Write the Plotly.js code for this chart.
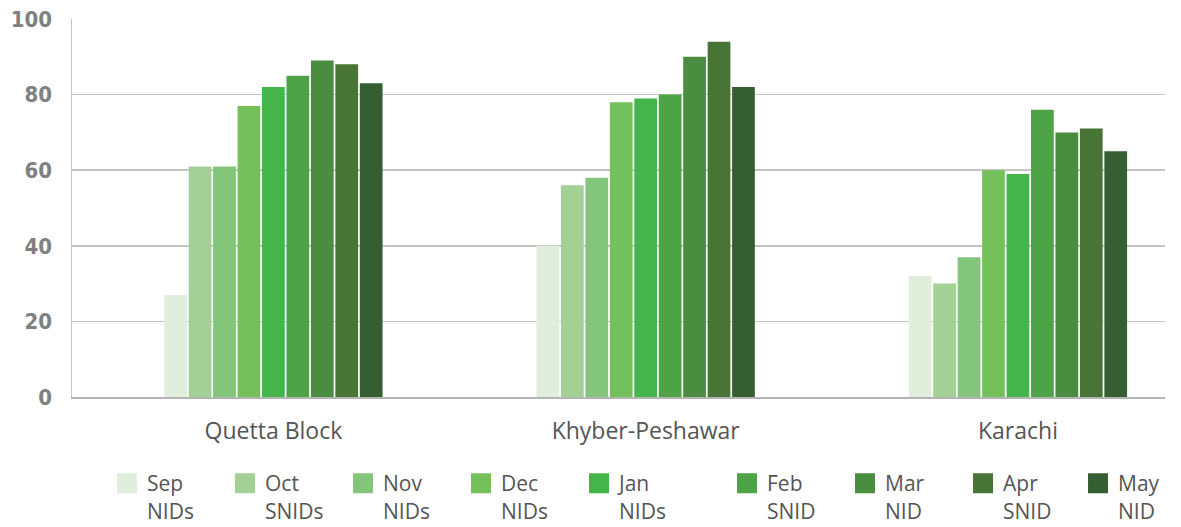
<!DOCTYPE html>
<html>
<head>
<meta charset="utf-8">
<script src="https://cdn.plot.ly/plotly-3.0.1.min.js"></script>
<style>
  body { margin: 0; background: #fff; }
  #chart { width: 1181px; height: 527px; }
</style>
</head>
<body>
<div id="chart"></div>
<script>
// regions on the x axis
let regions = ["Quetta Block", "Khyber-Peshawar", "Karachi"];

// one entry per campaign (legend label, colour, values per region)
let campaigns = ["Sep<br>NIDs", "Oct<br>SNIDs", "Nov<br>NIDs", "Dec<br>NIDs", "Jan<br>NIDs",
                 "Feb<br>SNID", "Mar<br>NID", "Apr<br>SNID", "May<br>NID"];
let colours = ["#e0efdc", "#a2d095", "#82c57b", "#74c15c", "#43b54a",
               "#4ea347", "#4b8d40", "#487536", "#355f33"];

let sepNIDs  = [27, 40, 32];
let octSNIDs = [61, 56, 30];
let novNIDs  = [61, 58, 37];
let decNIDs  = [77, 78, 60];
let janNIDs  = [82, 79, 59];
let febSNID  = [85, 80, 76];
let marNID   = [89, 90, 70];
let aprSNID  = [88, 94, 71];
let mayNID   = [83, 82, 65];

let series = [sepNIDs, octSNIDs, novNIDs, decNIDs, janNIDs, febSNID, marNID, aprSNID, mayNID];

let data = [];
for (let i = 0; i < series.length; i++) {
  data.push({
    type: "bar",
    x: regions,
    y: series[i],
    name: campaigns[i],
    marker: {color: colours[i]},
    showlegend: false,
    hoverinfo: "y"
  });
}
// legend entries (bigger squares than the bar icons), split in blocks
for (let i = 0; i < series.length; i++) {
  data.push({
    type: "scatter",
    mode: "markers",
    x: [null],
    y: [null],
    name: campaigns[i],
    legend: i < 5 ? "legend" : (i < 8 ? "legend2" : "legend3"),
    marker: {symbol: "square", size: 16, color: colours[i], line: {color: colours[i], width: 4}},
    hoverinfo: "skip"
  });
}

let legendStyle = {
  orientation: "h",
  xref: "container",
  yref: "container",
  xanchor: "left",
  y: 0.1214,
  yanchor: "top",
  valign: "top",
  itemsizing: "trace",
  entrywidth: 73,
  entrywidthmode: "pixels",
  itemwidth: 30,
  font: {family: "'Open Sans', sans-serif", size: 21, color: "#555555"},
  tracegroupgap: 0
};

let layout = {
  width: 1181,
  height: 527,
  margin: {l: 72, r: 16, t: 19, b: 130},
  paper_bgcolor: "#ffffff",
  plot_bgcolor: "#ffffff",
  barmode: "group",
  bargap: 0.409,
  bargroupgap: 0.07,
  font: {family: "'Open Sans', sans-serif", color: "#555555"},
  xaxis: {
    type: "category",
    range: [-0.541, 2.395],
    showgrid: false,
    showline: true,
    linecolor: "#b4b4b4",
    linewidth: 2,
    ticks: "",
    ticklabelstandoff: 12,
    tickfont: {family: "'Open Sans', sans-serif", size: 23, color: "#555555"},
    fixedrange: true
  },
  yaxis: {
    range: [0, 100],
    dtick: 20,
    showgrid: true,
    gridcolor: "#c4c4c4",
    gridwidth: 1.5,
    zeroline: false,
    showline: true,
    linecolor: "#c4c4c4",
    linewidth: 1.5,
    ticks: "",
    ticklabelstandoff: 14,
    tickfont: {family: "'Liberation Sans Narrow', 'DejaVu Sans Condensed', sans-serif", size: 22, color: "#808080", weight: "bold"},
    fixedrange: true
  },
  legend: Object.assign({}, legendStyle, {x: 0.0906}),
  legend2: Object.assign({}, legendStyle, {x: 0.6156}),
  legend3: Object.assign({}, legendStyle, {x: 0.9128, entrywidth: null})
};

Plotly.newPlot("chart", data, layout, {displayModeBar: false, staticPlot: true});
</script>
</body>
</html>
